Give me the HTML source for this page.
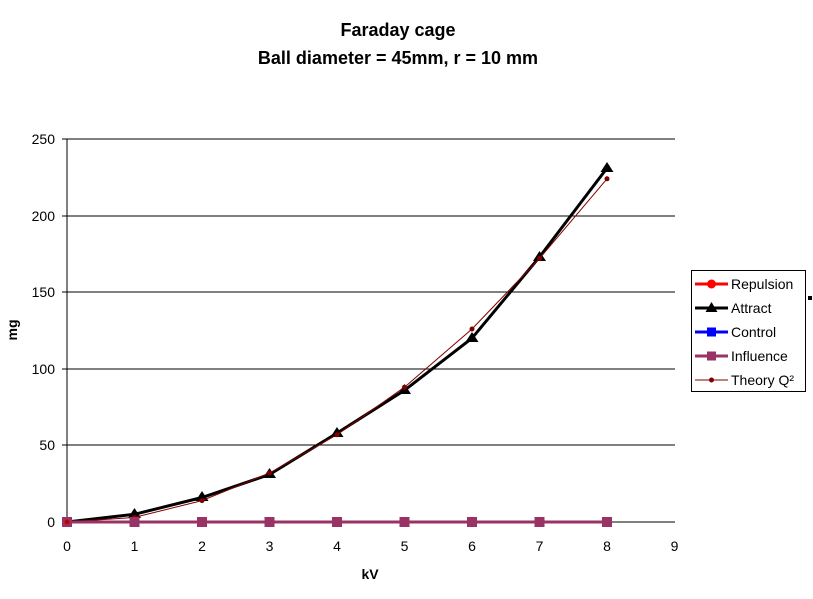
<!DOCTYPE html><html><head><style>body{margin:0;background:#fff}text{font-family:"Liberation Sans",Arial,sans-serif}</style></head><body>
<svg width="813" height="594" xmlns="http://www.w3.org/2000/svg">
<text x="398" y="36" font-size="18" font-weight="bold" text-anchor="middle">Faraday cage</text>
<text x="398" y="64" font-size="18" font-weight="bold" text-anchor="middle">Ball diameter = 45mm, r = 10 mm</text>
<g stroke="#000" stroke-width="1">
<line x1="67" y1="139" x2="675" y2="139"/><line x1="67" y1="216" x2="675" y2="216"/><line x1="67" y1="292" x2="675" y2="292"/><line x1="67" y1="369" x2="675" y2="369"/><line x1="67" y1="445" x2="675" y2="445"/>
<line x1="67" y1="139" x2="67" y2="522"/><line x1="67" y1="522" x2="675" y2="522"/>
<line x1="62" y1="139" x2="67" y2="139"/><line x1="62" y1="216" x2="67" y2="216"/><line x1="62" y1="292" x2="67" y2="292"/><line x1="62" y1="369" x2="67" y2="369"/><line x1="62" y1="445" x2="67" y2="445"/><line x1="62" y1="522" x2="67" y2="522"/>
</g>
<g font-size="14" text-anchor="end"><text x="55" y="144">250</text><text x="55" y="221">200</text><text x="55" y="297">150</text><text x="55" y="374">100</text><text x="55" y="450">50</text><text x="55" y="527">0</text></g>
<g font-size="14" text-anchor="middle"><text x="67" y="551">0</text><text x="134.5" y="551">1</text><text x="202" y="551">2</text><text x="269.5" y="551">3</text><text x="337" y="551">4</text><text x="404.5" y="551">5</text><text x="472" y="551">6</text><text x="539.5" y="551">7</text><text x="607" y="551">8</text><text x="674.5" y="551">9</text></g>
<text x="370" y="579" font-size="14" font-weight="bold" text-anchor="middle">kV</text>
<text x="17" y="330" font-size="14" font-weight="bold" text-anchor="middle" transform="rotate(-90 17 330)">mg</text>
<polyline fill="none" stroke="#000" stroke-width="3" points="67,522 134.5,514.3 202,497.5 269.5,474.5 337,433.1 404.5,390.3 472,338.2 539.5,257 607,168.1"/>
<g fill="#000"><polygon points="134.5,508 128,518 141,518"/><polygon points="202,491 195.5,501 208.5,501"/><polygon points="269.5,468 263,478 276,478"/><polygon points="337,427 330.5,437 343.5,437"/><polygon points="404.5,384 398,394 411,394"/><polygon points="472,332 465.5,342 478.5,342"/><polygon points="539.5,251 533,261 546,261"/><polygon points="607,162 600.5,172 613.5,172"/></g>
<polyline fill="none" stroke="#800000" stroke-width="1" points="67,522 134.5,517.4 202,500.6 269.5,473 337,434.7 404.5,387.2 472,329 539.5,258.5 607,178.8"/>
<g fill="#800000"><circle cx="134.5" cy="517.4" r="2.5"/><circle cx="202" cy="500.6" r="2.5"/><circle cx="269.5" cy="473" r="2.5"/><circle cx="337" cy="434.7" r="2.5"/><circle cx="404.5" cy="387.2" r="2.5"/><circle cx="472" cy="329" r="2.5"/><circle cx="539.5" cy="258.5" r="2.5"/><circle cx="607" cy="178.8" r="2.5"/></g>
<line x1="67" y1="522" x2="607" y2="522" stroke="#993366" stroke-width="3"/>
<g fill="#993366"><rect x="62" y="517" width="10" height="10"/><rect x="129.5" y="517" width="10" height="10"/><rect x="197" y="517" width="10" height="10"/><rect x="264.5" y="517" width="10" height="10"/><rect x="332" y="517" width="10" height="10"/><rect x="399.5" y="517" width="10" height="10"/><rect x="467" y="517" width="10" height="10"/><rect x="534.5" y="517" width="10" height="10"/><rect x="602" y="517" width="10" height="10"/></g>
<circle cx="67" cy="522" r="2.5" fill="#c00000"/>
<rect x="691.5" y="270.5" width="114" height="121" fill="#fff" stroke="#000"/>
<rect x="808" y="296" width="4" height="4" fill="#000"/>
<g font-size="14">
<line x1="695" y1="284" x2="728" y2="284" stroke="#f00" stroke-width="3"/><circle cx="711.5" cy="284" r="4.5" fill="#f00"/><text x="731" y="289">Repulsion</text>
<line x1="695" y1="308" x2="728" y2="308" stroke="#000" stroke-width="3"/><polygon points="711.5,302 705.5,312 717.5,312"/><text x="731" y="313">Attract</text>
<line x1="695" y1="332" x2="728" y2="332" stroke="#00f" stroke-width="3"/><rect x="707" y="327.5" width="9" height="9" fill="#00f"/><text x="731" y="337">Control</text>
<line x1="695" y1="356" x2="728" y2="356" stroke="#993366" stroke-width="3"/><rect x="707" y="351.5" width="9" height="9" fill="#993366"/><text x="731" y="361">Influence</text>
<line x1="695" y1="380" x2="728" y2="380" stroke="#800000" stroke-width="1"/><circle cx="711.5" cy="380" r="2.5" fill="#800000"/><text x="731" y="385">Theory Q²</text>
</g>
</svg></body></html>
